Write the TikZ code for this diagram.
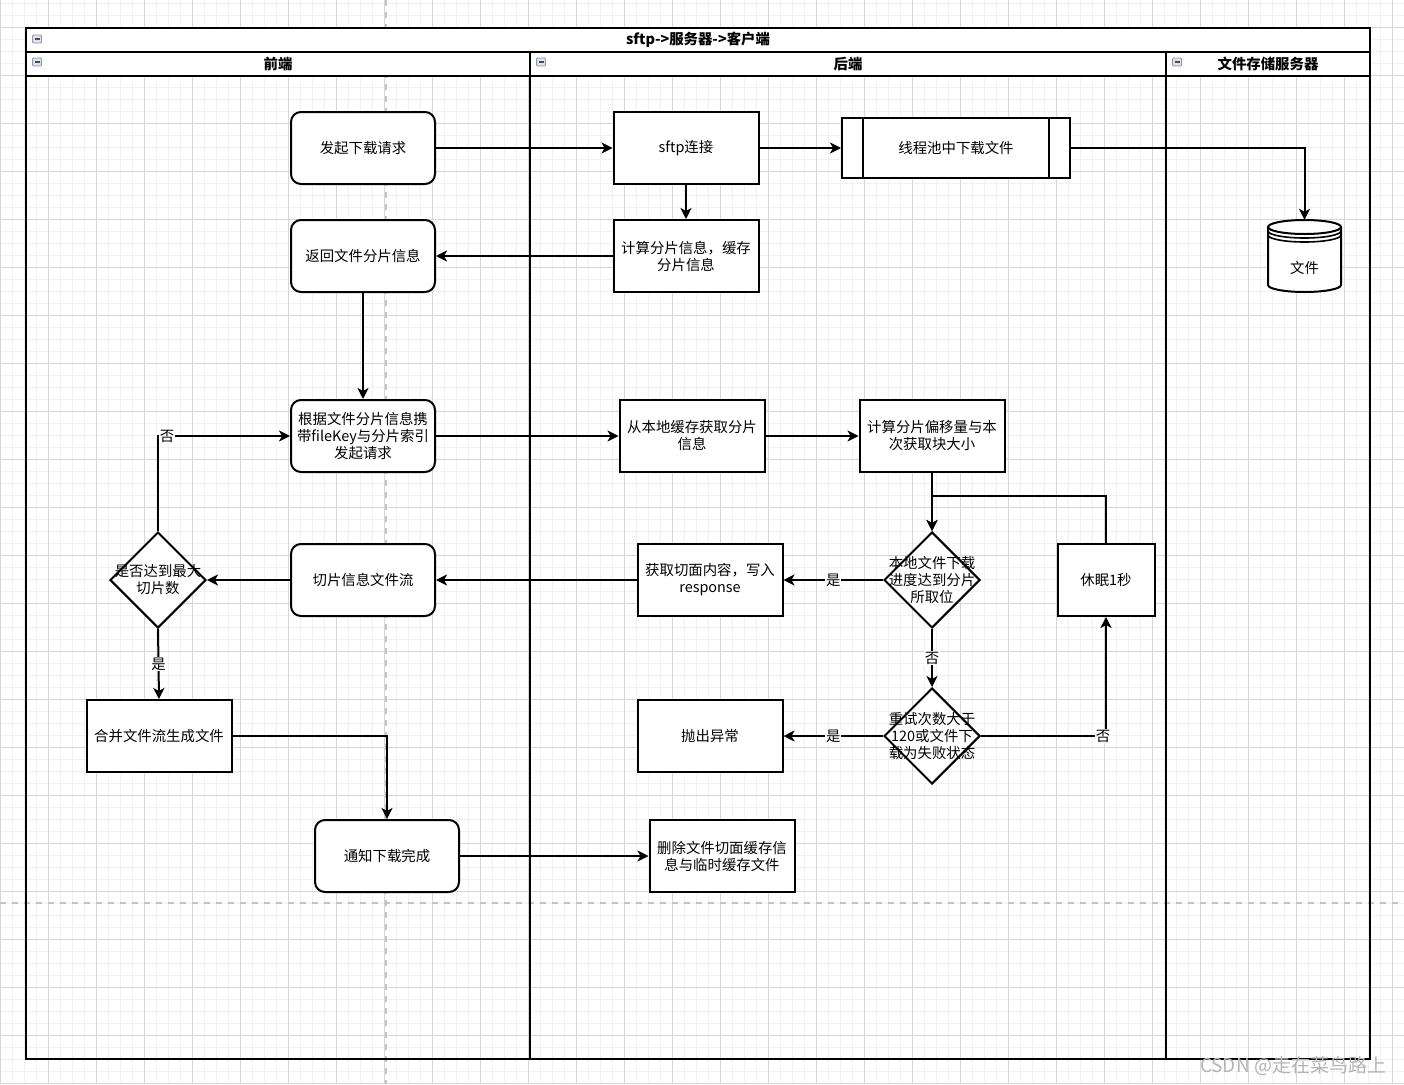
\documentclass[tikz,border=0pt]{standalone}
\usepackage{fontspec}
\setmainfont{Noto Sans CJK SC}
\usetikzlibrary{shapes.geometric,arrows.meta}
\definecolor{gridminor}{HTML}{F1F1F1}
\definecolor{gridmajor}{HTML}{D6D6D6}
\definecolor{pagebrk}{HTML}{C4C4C4}
\definecolor{iconfill}{HTML}{DCE2EA}
\definecolor{iconline}{HTML}{8C97A6}
\definecolor{wmark}{HTML}{B4B4B4}
\begin{document}
\begin{tikzpicture}[x=1pt,y=-1pt,
  every node/.style={font=\fontsize{14.4}{17}\selectfont},
  rbox/.style={draw,line width=2pt,rounded corners=10pt,fill=white,minimum width=144pt,minimum height=72pt,align=center,inner sep=2pt},
  sbox/.style={draw,line width=2pt,fill=white,minimum width=145pt,minimum height=72pt,align=center,inner sep=2pt},
  dia/.style={draw,line width=2pt,fill=white,diamond,aspect=1,minimum width=96pt,minimum height=96pt,inner sep=0pt},
  diatext/.style={align=center,inner sep=0pt},
  arr/.style={line width=2pt,-{Stealth[length=11pt,width=11pt,inset=3pt]}},
  lbl/.style={fill=white,inner sep=1pt},
  poolline/.style={line width=2.4pt},
  hdr/.style={font=\fontsize{14.4}{17}\selectfont\bfseries},
  collapse/.pic={\draw[iconline,fill=iconfill,line width=0.8pt,rounded corners=1pt] (-4.5,-4) rectangle (4.5,4); \draw[black!70,line width=1.2pt] (-2.5,0) -- (2.5,0);}
]
\useasboundingbox (0,0) rectangle (1404,1084);
\fill[white] (0,0) rectangle (1404,1084);
% grid
\foreach \x in {0.5,12.5,...,1404} \draw[gridminor,line width=1.2pt] (\x,0) -- (\x,1084);
\foreach \y in {3.5,15.5,...,1084} \draw[gridminor,line width=1.2pt] (0,\y) -- (1404,\y);
\foreach \x in {0.5,48.5,...,1404} \draw[gridmajor,line width=1pt] (\x,0) -- (\x,1084);
\foreach \y in {27.5,75.5,...,1084} \draw[gridmajor,line width=1pt] (0,\y) -- (1404,\y);
% page breaks
\draw[pagebrk,line width=1.6pt,dash pattern=on 6pt off 6pt] (386,0) -- (386,1084);
\draw[pagebrk,line width=1.6pt,dash pattern=on 6pt off 6pt] (0,903) -- (1404,903);
% pool
\fill[white] (26,28) rectangle (1370,76);
\draw[poolline] (26,28) rectangle (1370,1059);
\draw[poolline] (26,52) -- (1370,52);
\draw[poolline] (26,76) -- (1370,76);
\draw[poolline] (530,52) -- (530,1059);
\draw[poolline] (1166,52) -- (1166,1059);
\node[hdr] (title) at (698,40) {sftp->服务器->客户端};
\node[hdr] (lane1) at (278,64) {前端};
\node[hdr] (lane2) at (848,64) {后端};
\node[hdr] (lane3) at (1268,64) {文件存储服务器};
\pic at (37,39) {collapse};
\pic at (37,62) {collapse};
\pic at (541,62) {collapse};
\pic at (1177,62) {collapse};
% nodes front end
\node[rbox] (start) at (363,148) {发起下载请求};
\node[rbox] (ret) at (363,256) {返回文件分片信息};
\node[rbox] (req) at (363,436) {根据文件分片信息携\\带fileKey与分片索引\\发起请求};
\node[rbox] (stream) at (363,580) {切片信息文件流};
\node[dia] (d0) at (158,580) {};
\node[diatext] (d0t) at (d0) {是否达到最大\\切片数};
\node[sbox] (merge) at (159,736) {合并文件流生成文件};
\node[rbox] (notify) at (387,856) {通知下载完成};
% nodes back end
\node[sbox] (sftp) at (686,148) {sftp连接};
\node[sbox] (calc) at (686,256) {计算分片信息，缓存\\分片信息};
\node[draw,line width=2pt,fill=white,minimum width=228pt,minimum height=60pt] (tp) at (956,148) {线程池中下载文件};
\draw[line width=1.6pt] ([xshift=22pt]tp.north west) -- ([xshift=22pt]tp.south west);
\draw[line width=1.6pt] ([xshift=-22pt]tp.north east) -- ([xshift=-22pt]tp.south east);
\node[sbox] (local) at (692,436) {从本地缓存获取分片\\信息};
\node[sbox] (offset) at (932,436) {计算分片偏移量与本\\次获取块大小};
\node[dia] (d1) at (932,580) {};
\node[diatext] (d1t) at (d1) {本地文件下载\\进度达到分片\\所取位};
\node[sbox,minimum width=97pt] (sleep) at (1106,580) {休眠1秒};
\node[sbox] (write) at (710,580) {获取切面内容，写入\\response};
\node[dia] (d2) at (932,736) {};
\node[diatext] (d2t) at (d2) {重试次数大于\\120或文件下\\载为失败状态};
\node[sbox] (err) at (710,736) {抛出异常};
\node[sbox] (del) at (722,856) {删除文件切面缓存信\\息与临时缓存文件};
% storage cylinder
\node[minimum width=73pt,minimum height=72pt,inner sep=0pt] (file) at (1304.5,256) {};
\begin{scope}[line width=2pt]
\fill[white] (1268,227) -- (1268,285) arc[start angle=180,end angle=0,x radius=36.5,y radius=7] -- (1341,227) arc[start angle=0,end angle=-180,x radius=36.5,y radius=7] -- cycle;
\draw (1268,227) -- (1268,285) arc[start angle=180,end angle=0,x radius=36.5,y radius=7] -- (1341,227);
\draw (1304.5,227) ellipse[x radius=36.5,y radius=7];
\draw[line width=1.6pt] (1268,231) arc[start angle=180,end angle=0,x radius=36.5,y radius=7];
\draw[line width=1.6pt] (1268,235) arc[start angle=180,end angle=0,x radius=36.5,y radius=7];
\end{scope}
\node (filet) at (1304.5,268) {文件};
% edges
\draw[arr] (start) -- (sftp);
\draw[arr] (sftp) -- (tp);
\draw[arr] (tp.east) -| (file.north);
\draw[arr] (sftp) -- (calc);
\draw[arr] (calc) -- (ret);
\draw[arr] (ret) -- (req);
\draw[arr] (req) -- (local);
\draw[arr] (local) -- (offset);
\draw[arr] (offset) -- (d1);
\draw[arr] (d1) -- node[lbl,pos=0.5] {是} (write);
\draw[arr] (write) -- (stream);
\draw[arr] (stream) -- (d0);
\draw[arr] (d0.north) |- (req.west);
\node[lbl] (no0) at (167,436) {否};
\draw[arr] (d0.south) -- node[lbl,pos=0.5] {是} (merge.north);
\draw[arr] (merge.east) -| (notify.north);
\draw[arr] (notify) -- (del);
\draw[arr] (d1.south) -- node[lbl,pos=0.5] {否} (d2.north);
\draw[arr] (d2) -- node[lbl,pos=0.5] {是} (err);
\draw[arr] (d2.east) -| (sleep.south);
\node[lbl] (no2) at (1103,736) {否};
\coordinate (j) at (932,496);
\draw[arr] (sleep.north) |- (j) -- (d1.north);
% watermark
\node[text=wmark,font=\fontsize{19}{21}\selectfont] (wm) at (1293,1066) {CSDN @走在菜鸟路上};
\end{tikzpicture}
\end{document}
